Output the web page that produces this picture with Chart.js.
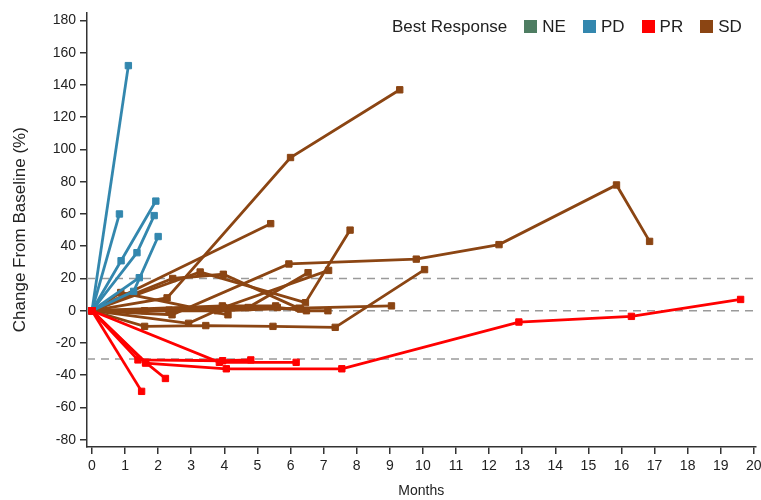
<!DOCTYPE html>
<html>
<head>
<meta charset="utf-8">
<script src="https://cdn.jsdelivr.net/npm/chart.js@4"></script>
<style>
  body { margin: 0; background: #fff; }
  #wrap { position: relative; width: 761px; height: 500px; }
  #legend { position: absolute; top: 17px; left: 392px; font: 17px "Liberation Sans", Arial, sans-serif; color: #222; white-space: nowrap; }
  #legend span.item { margin-left: 17px; }
  #legend i { display: inline-block; width: 13px; height: 13px; margin-right: 5px; vertical-align: -1px; }
</style>
</head>
<body>
<div id="wrap">
  <canvas id="myChart" width="761" height="500"></canvas>
  <div id="legend"></div>
</div>
<script>
// tick values
const xTicks = [0,1,2,3,4,5,6,7,8,9,10,11,12,13,14,15,16,17,18,19,20];
const yTicks = [-80,-60,-40,-20,0,20,40,60,80,100,120,140,160,180];
const refLines = [20, 0, -30];

// response groups shown in the legend
const groups = ['NE', 'PD', 'PR', 'SD'];
const groupColors = ['#4E7D62', '#3387AE', '#FF0000', '#8B4513'];

// [month, % change] per patient
const pdSeries = [
  [[0,0],[1.1,152]],
  [[0,0],[0.83,60]],
  [[0,0],[0.88,31],[1.93,68]],
  [[0,0],[1.36,36],[1.88,59]],
  [[0,0],[1.26,12],[2.0,46]],
  [[0,0],[1.43,20.5]]
];
const prSeries = [
  [[0,0],[1.5,-50]],
  [[0,0],[1.62,-32],[2.22,-42]],
  [[0,0],[1.39,-30.5],[3.95,-31],[4.8,-30.5]],
  [[0,0],[1.62,-32.5],[4.06,-36],[7.55,-36],[12.9,-7],[16.3,-3.5],[19.6,7]],
  [[0,0],[3.85,-32],[6.17,-32]]
];
const sdSeries = [
  [[0,0],[2.27,8],[6,95],[9.3,137]],
  [[0,0],[2.42,-2.5],[5.95,29],[9.8,32],[12.3,41],[15.85,78],[16.85,43]],
  [[0,0],[5.4,54]],
  [[0,0],[3.27,24],[6.45,5],[7.8,50]],
  [[0,0],[2.44,20],[3.97,22.6],[6.3,1]],
  [[0,0],[0.87,11.3],[4.11,-2.5]],
  [[0,0],[1.59,0],[3.79,0],[6.25,1.6],[9.05,3]],
  [[0,0],[1.59,-9.7],[3.44,-9.2],[5.47,-9.7],[7.35,-10.3],[10.05,25.5]],
  [[0,0],[2.92,-7.8],[3.97,2],[7.15,25]],
  [[0,0],[4.72,2],[6.53,23.6]],
  [[0,0],[2.33,0.4],[5.6,2],[6.48,0],[7.13,0]],
  [[0,0],[3.94,3],[5.55,3]]
];

const xMin = -0.15, xMax = 20.05;

function patientSet(pts, color){
  return {
    data: pts.map(p => ({x: p[0], y: p[1]})),
    borderColor: color,
    backgroundColor: color,
    borderWidth: 2.8,
    pointStyle: 'rect',
    pointRadius: 4.5,
    pointBorderWidth: 1,
    tension: 0
  };
}

var datasets = [];
prSeries.forEach(s => datasets.push(patientSet(s, groupColors[2])));
pdSeries.forEach(s => datasets.push(patientSet(s, groupColors[1])));
sdSeries.forEach(s => datasets.push(patientSet(s, groupColors[3])));
refLines.forEach(v => datasets.push({
  data: [{x: xMin, y: v}, {x: xMax, y: v}],
  borderColor: '#9a9a9a',
  borderWidth: 1.5,
  borderDash: [8, 6],
  pointRadius: 0
}));

var axisFont = {family: '"Liberation Sans Narrow", "Liberation Sans", Arial, sans-serif', size: 14};

var ctx = document.getElementById('myChart').getContext('2d');
var myChart = new Chart(ctx, {
  type: 'line',
  data: { datasets: datasets },
  options: {
    responsive: false,
    animation: false,
    layout: { padding: { top: 10, right: 1, left: 0, bottom: 0 } },
    plugins: { legend: { display: false }, tooltip: { enabled: false } },
    scales: {
      x: {
        type: 'linear',
        min: xMin,
        max: xMax,
        afterBuildTicks: s => { s.ticks = xTicks.map(v => ({value: v})); },
        afterFit: s => { s.height = 53; s.paddingLeft = 0; s.paddingRight = 0; },
        ticks: { color: '#222', font: axisFont, padding: 4, maxRotation: 0, autoSkip: false },
        grid: { drawOnChartArea: false, drawTicks: true, tickLength: 7, color: '#333', lineWidth: 1.5 },
        border: { display: true, color: '#333', width: 1.5 },
        title: { display: true, text: 'Months', color: '#222', font: {family: 'Liberation Sans, Arial, sans-serif', size: 14}, padding: {top: 4, bottom: 0} }
      },
      y: {
        min: -84.5,
        max: 185,
        afterBuildTicks: s => { s.ticks = yTicks.map(v => ({value: v})); },
        afterFit: s => { s.width = 87; },
        ticks: { color: '#222', font: axisFont, padding: 4 },
        grid: { drawOnChartArea: false, drawTicks: true, tickLength: 7, color: '#333', lineWidth: 1.5 },
        border: { display: true, color: '#333', width: 1.5 },
        title: { display: true, text: 'Change From Baseline (%)', color: '#222', font: {family: 'Liberation Sans, Arial, sans-serif', size: 17}, padding: {top: 10, bottom: 4} }
      }
    }
  }
});

// legend
var lg = document.getElementById('legend');
var html = 'Best Response';
groups.forEach((g, i) => {
  html += '<span class="item"><i style="background:' + groupColors[i] + '"></i>' + g + '</span>';
});
lg.innerHTML = html;
</script>
</body>
</html>
